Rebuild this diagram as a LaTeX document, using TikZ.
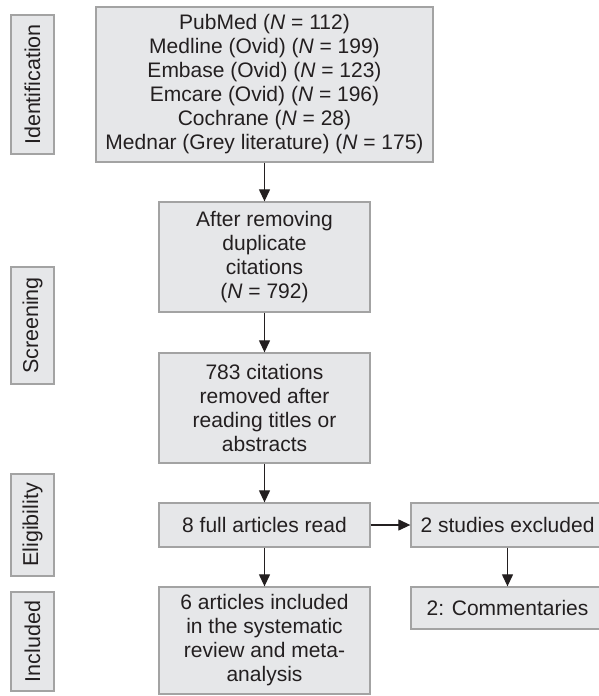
\documentclass[tikz,border=0pt]{standalone}
\usepackage{fontspec}
\setmainfont{Liberation Sans}
\usetikzlibrary{arrows.meta}
\definecolor{boxfill}{HTML}{E6E7E9}
\definecolor{boxline}{HTML}{A3A3A3}
\definecolor{ink}{HTML}{231F20}
\begin{document}
\begin{tikzpicture}[x=1pt,y=-1pt,
  box/.style={draw=boxline, fill=boxfill, line width=1.3pt, inner sep=0pt, align=center,
    text=ink, font=\fontsize{21}{24}\selectfont},
  arr/.style={draw=ink, line width=1.2pt, -{Triangle[length=12pt,width=11pt]}}]
\useasboundingbox (0,0) rectangle (599,696);
% side labels
\node[box, rotate=90, minimum width=139pt, minimum height=43pt, font=\fontsize{21.5}{24}\selectfont] (lid) at (32.5,84.5) {Identification};
\node[box, rotate=90, minimum width=117pt, minimum height=43pt, font=\fontsize{21.5}{24}\selectfont] (lsc) at (32.5,325.5) {Screening};
\node[box, rotate=90, minimum width=102pt, minimum height=43pt, font=\fontsize{21.5}{24}\selectfont] (lel) at (32.5,525) {Eligibility};
\node[box, rotate=90, minimum width=99pt, minimum height=43pt, font=\fontsize{21.5}{24}\selectfont] (lin) at (32.5,641.5) {Included};
% main boxes
\node[box, minimum width=337pt, minimum height=155pt] (src) at (264.5,84.5)
 {PubMed (\textit{N} = 112)\\Medline (Ovid) (\textit{N} = 199)\\Embase (Ovid) (\textit{N} = 123)\\Emcare (Ovid) (\textit{N} = 196)\\Cochrane (\textit{N} = 28)\\Mednar (Grey literature) (\textit{N} = 175)};
\node[box, minimum width=211pt, minimum height=110pt] (dup) at (264.5,257)
 {After removing\\duplicate\\citations\\(\textit{N} = 792)};
\node[box, minimum width=211pt, minimum height=110pt] (rem) at (264.5,408)
 {783 citations\\removed after\\reading titles or\\abstracts};
\node[box, minimum width=211pt, minimum height=44pt] (full) at (264.5,525)
 {8 full articles read};
\node[box, minimum width=211pt, minimum height=107pt] (inc) at (264.5,640.5)
 {6 articles included\\in the systematic\\review and meta-\\analysis};
\node[box, minimum width=193pt, minimum height=44pt] (exc) at (507.5,525)
 {2 studies excluded};
\node[box, minimum width=193pt, minimum height=42pt] (com) at (507.5,608)
 {2: Commentaries};
% connectors
\draw[arr] (src) -- (dup);
\draw[arr] (dup) -- (rem);
\draw[arr] (rem) -- (full);
\draw[arr] (full) -- (inc);
\draw[arr] (full) -- (exc);
\draw[arr] (exc) -- (com);
\end{tikzpicture}
\end{document}
